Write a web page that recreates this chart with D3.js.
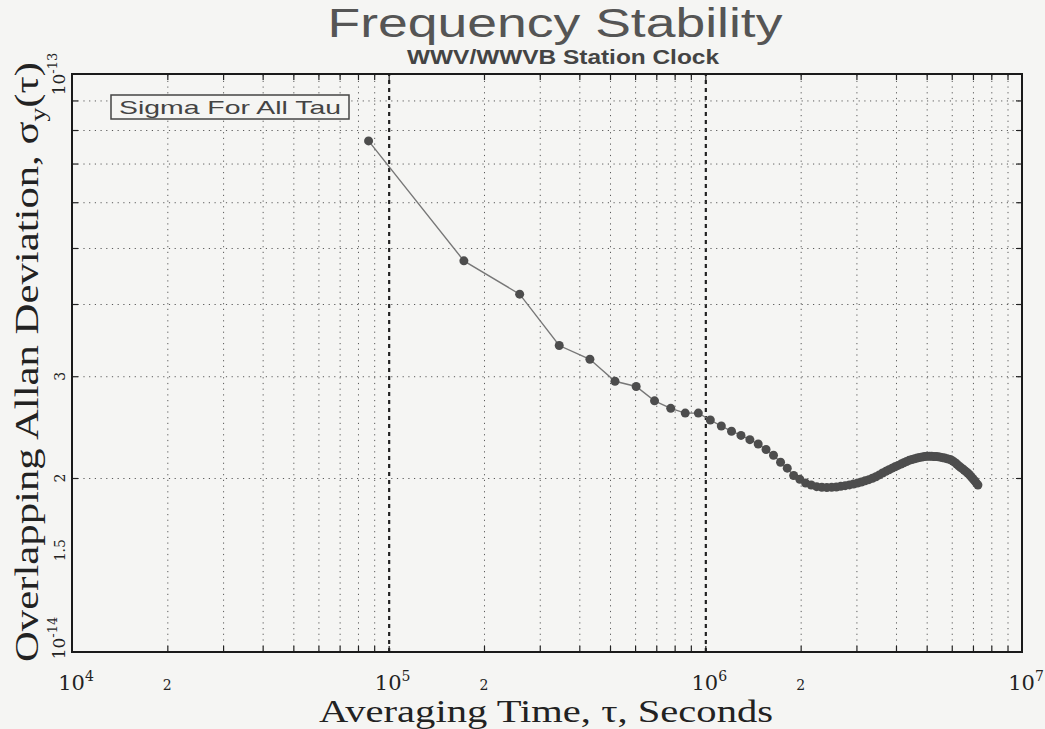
<!DOCTYPE html>
<html>
<head>
<meta charset="utf-8">
<script src="https://cdn.jsdelivr.net/npm/d3@7"></script>
<style>
  body { margin: 0; background: #f5f5f3; }
  svg { display: block; }
  .grid line { stroke: #5a5a5a; stroke-width: 1; stroke-dasharray: 1.2,4.5; }
  .grid .major line { stroke: #222; stroke-width: 2.2; stroke-dasharray: 4,4; }
  .grid path, .ticks path { display: none; }
  .ticks line { stroke: #222; stroke-width: 1.2; }
  .serif { font-family: "DejaVu Serif", "Liberation Serif", serif; fill: #222; }
  .serif2 { font-family: "Liberation Serif", "DejaVu Serif", serif; fill: #222; }
</style>
</head>
<body>
<svg width="1045" height="729"></svg>
<script>
// averaging time in days (tau0 = 1 day)
var tauDays = [1, 2, 3, 4, 5, 6, 7, 8, 9, 10, 11, 12, 13, 14, 15, 16, 17, 18, 19, 20,
    21, 22, 23, 24, 25, 26, 27, 28, 29, 30, 31, 32, 33, 34, 35, 36, 37, 38, 39, 40,
    41, 42, 43, 44, 45, 46, 47, 48, 49, 50, 51, 52, 53, 54, 55, 56, 57, 58, 59, 60,
    61, 62, 63, 64, 65, 66, 67, 68, 69, 70, 71, 72, 73, 74, 75, 76, 77, 78, 79, 80,
    81, 82, 83, 84];
// overlapping allan deviation, units of 1e-14
var sigmaE14 = [7.66, 4.75, 4.16, 3.39, 3.21, 2.94, 2.88, 2.72, 2.64, 2.59,
    2.59, 2.52, 2.46, 2.41, 2.37, 2.33, 2.29, 2.24, 2.19, 2.13,
    2.08, 2.02, 1.99, 1.96, 1.945, 1.932, 1.928, 1.926, 1.927, 1.930,
    1.935, 1.940, 1.946, 1.953, 1.960, 1.968, 1.978, 1.987, 1.998, 2.010,
    2.025, 2.040, 2.054, 2.067, 2.080, 2.092, 2.103, 2.114, 2.125, 2.136,
    2.147, 2.153, 2.159, 2.165, 2.171, 2.175, 2.178, 2.180, 2.180, 2.180,
    2.179, 2.178, 2.176, 2.173, 2.169, 2.165, 2.160, 2.156, 2.150, 2.140,
    2.128, 2.115, 2.100, 2.088, 2.076, 2.064, 2.052, 2.040, 2.026, 2.010,
    1.994, 1.978, 1.962, 1.945];

var xTickValues = [1e4, 2e4, 1e5, 2e5, 1e6, 2e6, 1e7];
var xTickLabels = ["4", "2", "5", "2", "6", "2", "7"];   // exponent or plain digit
var yTickValues = [1e-14, 1.5e-14, 2e-14, 3e-14, 1e-13];
var yTickLabels = ["-14", "1.5", "2", "3", "-13"];

var plotLeft = 72, plotRight = 1022, plotTop = 74, plotBottom = 652;
var svg = d3.select("svg");

var x = d3.scaleLog().domain([1e4, 1e7]).range([plotLeft, plotRight]);
var y = d3.scaleLog().domain([1e-14, 1e-13]).range([plotBottom, plotTop]);

// minor positions 2..9 x 10^k
var xMinor = [], yMinor = [];
for (var k = 4; k < 7; k++) {
    for (var m = 2; m < 10; m++) xMinor.push(m * Math.pow(10, k));
}
xMinor.push(1e5, 1e6);
for (var m = 2; m < 10; m++) yMinor.push(m * 1e-14);

// grid
svg.append("g").attr("class", "grid")
    .attr("transform", "translate(0," + plotBottom + ")")
    .call(d3.axisBottom(x).tickValues(xMinor).tickSize(-(plotBottom - plotTop)).tickFormat(""))
    .selectAll(".tick")
    .classed("major", function (d) { return d == 1e5 || d == 1e6; });

svg.append("g").attr("class", "grid")
    .attr("transform", "translate(" + plotLeft + ",0)")
    .call(d3.axisLeft(y).tickValues(yMinor).tickSize(-(plotRight - plotLeft)).tickFormat(""));

// inward ticks on all four sides
svg.append("g").attr("class", "ticks").attr("transform", "translate(0," + plotBottom + ")")
    .call(d3.axisBottom(x).tickValues(xMinor).tickSize(-6).tickFormat(""));
svg.append("g").attr("class", "ticks").attr("transform", "translate(0," + plotTop + ")")
    .call(d3.axisTop(x).tickValues(xMinor).tickSize(-6).tickFormat(""));
svg.append("g").attr("class", "ticks").attr("transform", "translate(" + plotLeft + ",0)")
    .call(d3.axisLeft(y).tickValues(yMinor).tickSize(-6).tickFormat(""));
svg.append("g").attr("class", "ticks").attr("transform", "translate(" + plotRight + ",0)")
    .call(d3.axisRight(y).tickValues(yMinor).tickSize(-6).tickFormat(""));

// frame
svg.append("rect")
    .attr("x", plotLeft).attr("y", plotTop)
    .attr("width", plotRight - plotLeft).attr("height", plotBottom - plotTop)
    .attr("fill", "none").attr("stroke", "#1a1a1a").attr("stroke-width", 2);

// data
var points = tauDays.map(function (d, i) {
    return { tau: d * 86400, sigma: sigmaE14[i] * 1e-14 };
});

var line = d3.line()
    .x(function (d) { return x(d.tau); })
    .y(function (d) { return y(d.sigma); });

svg.append("path")
    .datum(points)
    .attr("d", line)
    .attr("fill", "none")
    .attr("stroke", "#777")
    .attr("stroke-width", 1.4);

svg.selectAll("circle.pt").data(points).enter()
    .append("circle")
    .attr("class", "pt")
    .attr("cx", function (d) { return x(d.tau); })
    .attr("cy", function (d) { return y(d.sigma); })
    .attr("r", 4.5)
    .attr("fill", "#4d4d4d");

// legend box
svg.append("rect")
    .attr("x", 111).attr("y", 95).attr("width", 238).attr("height", 24)
    .attr("fill", "#f5f5f3").attr("stroke", "#444").attr("stroke-width", 1.5);
svg.append("text")
    .attr("x", 119).attr("y", 114)
    .attr("font-family", "Liberation Sans, Arial, sans-serif")
    .attr("font-size", 19)
    .attr("fill", "#444")
    .attr("textLength", 222).attr("lengthAdjust", "spacingAndGlyphs")
    .text("Sigma For All Tau");

// x tick labels
xTickValues.forEach(function (v, i) {
    var isDecade = Math.abs(Math.log10(v) % 1) < 1e-9;
    var t = svg.append("text").attr("class", "serif")
        .attr("x", x(v)).attr("y", 690)
        .attr("text-anchor", "middle");
    if (isDecade) {
        t.attr("font-size", 21);
        t.append("tspan").text("10");
        t.append("tspan").attr("font-size", 14).attr("dy", -9).text(xTickLabels[i]);
        t.attr("dx", 4);
    } else {
        t.attr("font-size", 14).text(xTickLabels[i]);
    }
});

// y tick labels
yTickValues.forEach(function (v, i) {
    var isDecade = yTickLabels[i].charAt(0) == "-";
    var yy = y(v);
    if (i == 0) yy = yy - 14;
    var t = svg.append("text").attr("class", "serif")
        .attr("transform", "translate(65," + yy + ") rotate(-90)")
        .attr("text-anchor", "middle");
    if (isDecade) {
        t.attr("font-size", 17);
        t.append("tspan").text("10");
        t.append("tspan").attr("font-size", 13).attr("dy", -8).text(yTickLabels[i]);
    } else {
        t.attr("font-size", 14).text(yTickLabels[i]);
    }
});

// axis titles
svg.append("text").attr("class", "serif2")
    .attr("x", 546).attr("y", 722)
    .attr("text-anchor", "middle")
    .attr("font-size", 32)
    .attr("textLength", 454).attr("lengthAdjust", "spacingAndGlyphs")
    .text("Averaging Time, \u03c4, Seconds");

var yt = svg.append("text").attr("class", "serif2")
    .attr("transform", "translate(38,362) rotate(-90)")
    .attr("text-anchor", "middle")
    .attr("font-size", 34)
    .attr("textLength", 600).attr("lengthAdjust", "spacingAndGlyphs");
yt.append("tspan").text("Overlapping Allan Deviation, \u03c3");
yt.append("tspan").attr("font-size", 22).attr("dy", 7).text("y");
yt.append("tspan").attr("dy", -7).text("(\u03c4)");

// titles
svg.append("text")
    .attr("x", 555).attr("y", 37)
    .attr("text-anchor", "middle")
    .attr("font-family", "Liberation Sans, Arial, sans-serif")
    .attr("font-size", 41)
    .attr("fill", "#555")
    .attr("textLength", 455).attr("lengthAdjust", "spacingAndGlyphs")
    .text("Frequency Stability");
svg.append("text")
    .attr("x", 563).attr("y", 64)
    .attr("text-anchor", "middle")
    .attr("font-family", "Liberation Sans, Arial, sans-serif")
    .attr("font-size", 21)
    .attr("font-weight", "bold")
    .attr("fill", "#444")
    .attr("textLength", 312).attr("lengthAdjust", "spacingAndGlyphs")
    .text("WWV/WWVB Station Clock");
</script>
</body>
</html>
